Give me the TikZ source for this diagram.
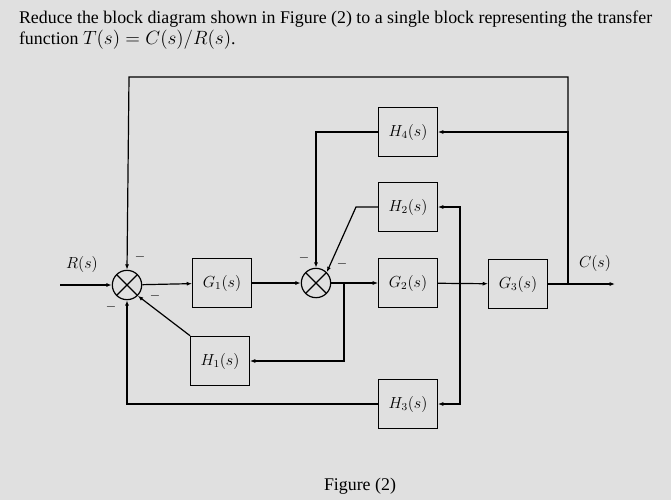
\documentclass[tikz,border=0pt]{standalone}
\usepackage{fontspec}
\setmainfont{Liberation Serif}
\usetikzlibrary{arrows.meta}
\begin{document}
\begin{tikzpicture}[x=0.75pt,y=-0.75pt,line width=0.9pt,
  blk/.style={draw,minimum width=44pt,minimum height=37pt,inner sep=0pt,font=\large},
  sum/.style={draw,circle,minimum size=22pt,inner sep=0pt,path picture={\draw (path picture bounding box.north west)--(path picture bounding box.south east) (path picture bounding box.north east)--(path picture bounding box.south west);}},
  ar/.style={-{Latex[length=4pt,width=3pt]}},
  mn/.style={font=\normalsize}]
\fill[black!12] (0,0) rectangle (671,500);
\useasboundingbox (0,0) rectangle (671,500);
\node[anchor=west,align=left,font=\fontsize{13.4}{16}\selectfont] (title) at (14,30) {Reduce the block diagram shown in Figure (2) to a single block representing the transfer\\function $T(s)=C(s)/R(s)$.};
\node (s1) [sum] at (127,285) {};
\node (s2) [sum] at (316,283) {};
\node (g1) [blk] at (222,283) {$G_1(s)$};
\node (g2) [blk] at (408,283) {$G_2(s)$};
\node (g3) [blk] at (518,284) {$G_3(s)$};
\node (h4) [blk] at (408,132) {$H_4(s)$};
\node (h2) [blk] at (408,207) {$H_2(s)$};
\node (h1) [blk] at (220,361) {$H_1(s)$};
\node (h3) [blk] at (408,404) {$H_3(s)$};
\coordinate (rin) at (60,285);
\coordinate (cout) at (615,284);
\coordinate (tc) at (568,284);
\coordinate (tg) at (460,283);
\coordinate (t2) at (344,283);
\node[anchor=south,font=\large] (rl) at (82,278) {$R(s)$};
\node[anchor=south,font=\large] (cl) at (595,277) {$C(s)$};
\draw[ar] (rin)--(s1);
\draw[ar] (s1)--(g1);
\draw[ar] (g1)--(s2);
\draw[ar] (s2)--(g2);
\draw[ar] (g2)--(g3);
\draw[ar] (g3)--(cout);
\draw[ar] (tc)|-(h4.east);
\draw[ar] (tc)|-(129,77)--(s1.north);
\draw[ar] (h4.west)-|(s2.north);
\draw[ar] (tg)|-(h2.east);
\draw[ar] (tg)|-(h3.east);
\draw[ar] (h2.west)--(356,207)--(s2.north east);
\draw[ar] (t2)|-(h1.east);
\draw[ar] (h1.north west)--(s1.south east);
\draw[ar] (h3.west)-|(s1.south);
\node[mn] (m1) at (140,257) {$-$};
\node[mn] (m2) at (111,307) {$-$};
\node[mn] (m3) at (155,296) {$-$};
\node[mn] (m4) at (304,258) {$-$};
\node[mn] (m5) at (342,264) {$-$};
\node[font=\fontsize{13.4}{16}\selectfont] (fig) at (360,486) {Figure (2)};
\end{tikzpicture}
\end{document}
